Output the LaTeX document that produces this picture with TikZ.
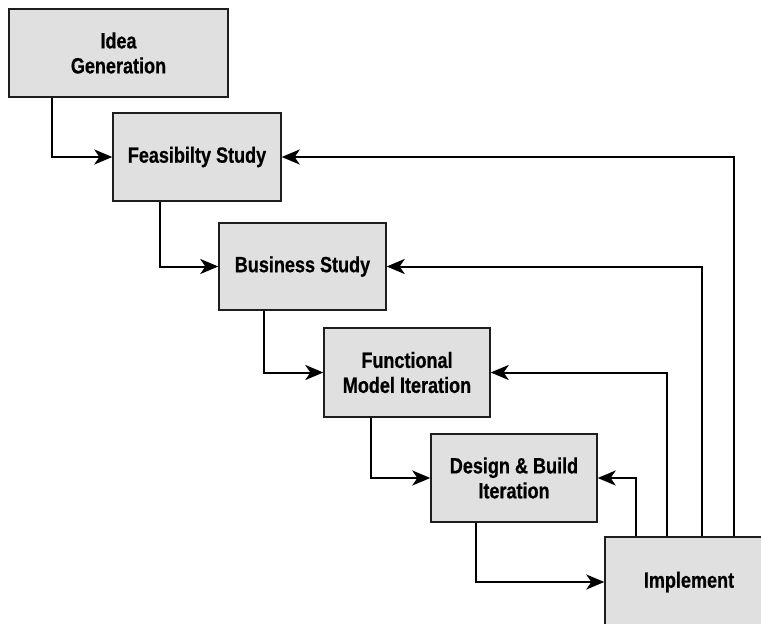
\documentclass[tikz,border=0pt]{standalone}
\usepackage{fontspec}
\setmainfont{Liberation Sans}[FakeStretch=0.82, BoldFeatures={FakeBold=0.6}]
\usepackage{tikz}
\usetikzlibrary{arrows.meta, positioning}
\definecolor{boxgray}{RGB}{224,224,224}
\definecolor{edgegray}{RGB}{30,30,30}
\tikzset{
    stage/.style={draw=edgegray, fill=boxgray, line width=1.4pt, align=center,
        inner sep=0pt, font=\fontsize{22}{25}\selectfont\bfseries},
    flow/.style={draw=black, line width=2pt,
        -{Stealth[length=18pt, width=15pt, inset=5pt]}}
}

\begin{document}
\begin{tikzpicture}[x=1pt, y=-1pt]
    \useasboundingbox (0,0) rectangle (761,624);
    \clip (0,0) rectangle (761,624);
    % stages of the staircase
    \node[stage, minimum width=219pt, minimum height=88pt] (idea) at (118.5,53) {Idea\\Generation};
    \node[stage, minimum width=168pt, minimum height=88pt] (feas) at (197,157) {Feasibilty Study};
    \node[stage, minimum width=167pt, minimum height=87pt] (bus) at (302.5,266.5) {Business Study};
    \node[stage, minimum width=166pt, minimum height=89pt] (func) at (407,372.5) {Functional\\Model Iteration};
    \node[stage, minimum width=166pt, minimum height=88pt] (design) at (514,478) {Design \& Build\\Iteration};
    \node[stage, minimum width=168pt, minimum height=90pt] (impl) at (689,582) {Implement};
    % forward steps
    \draw[flow] ([xshift=44pt]idea.south west) |- (feas.west);
    \draw[flow] ([xshift=48pt]feas.south west) |- (bus.west);
    \draw[flow] ([xshift=46pt]bus.south west) |- (func.west);
    \draw[flow] ([xshift=48pt]func.south west) |- (design.west);
    \draw[flow] ([xshift=46pt]design.south west) |- (impl.west);
    % feedback from implement
    \draw[flow] ([xshift=32pt]impl.north west) |- (design.east);
    \draw[flow] ([xshift=63pt]impl.north west) |- (func.east);
    \draw[flow] ([xshift=98pt]impl.north west) |- (bus.east);
    \draw[flow] ([xshift=130pt]impl.north west) |- (feas.east);
\end{tikzpicture}
\end{document}
